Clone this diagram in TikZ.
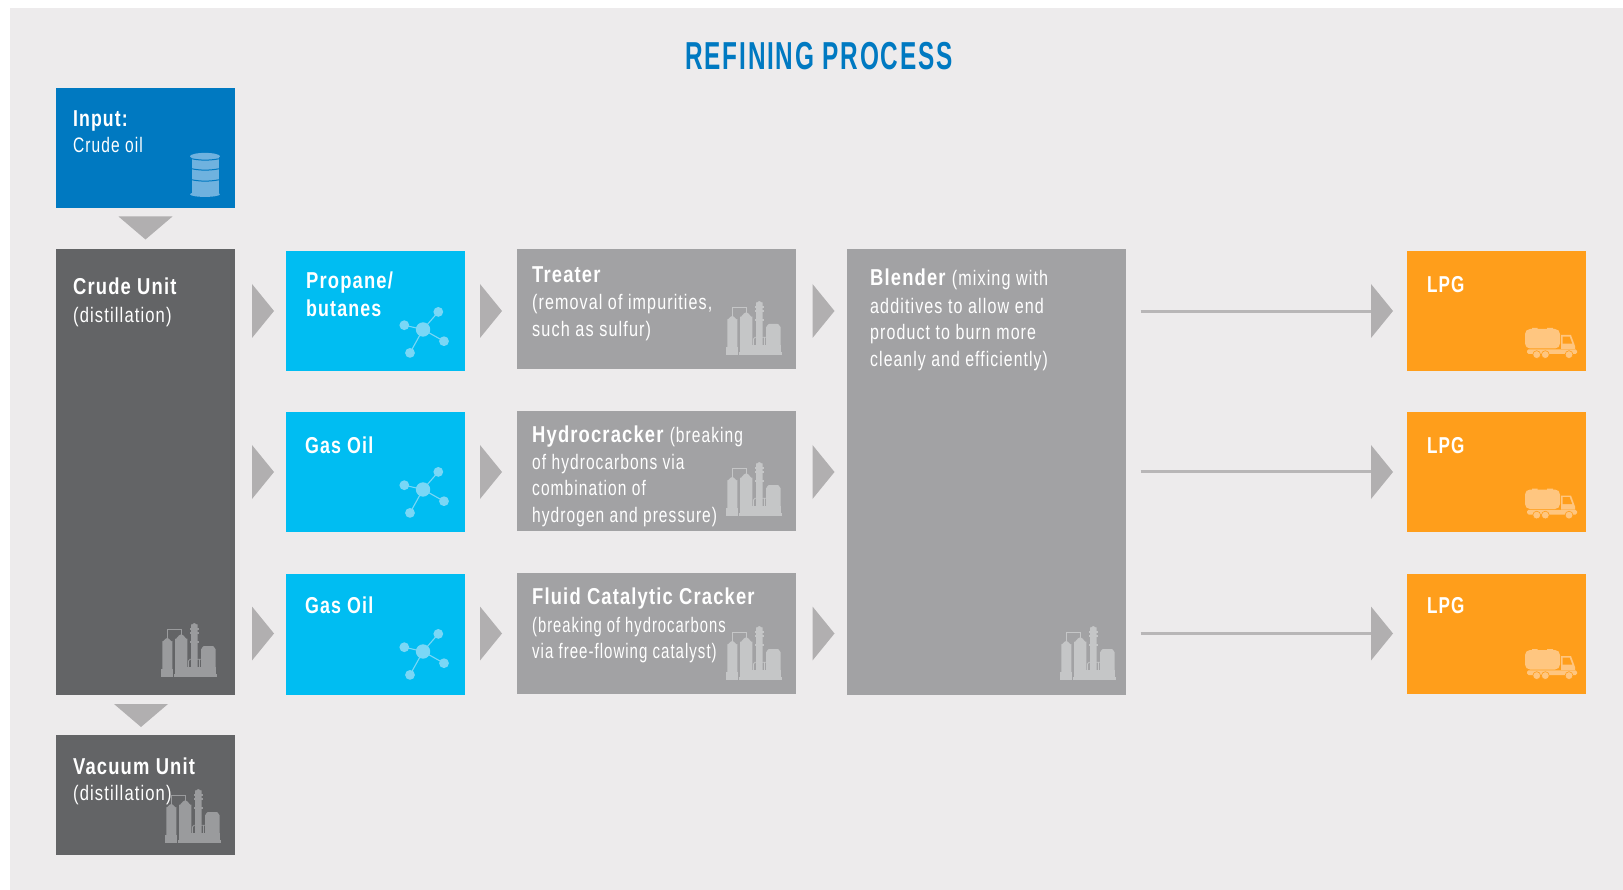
\documentclass[tikz,border=0pt]{standalone}
\usepackage{fontspec}
\usepackage{graphicx}
\setmainfont{Liberation Sans}
\newfontfamily\fr{Liberation Sans}[FakeStretch=.74,LetterSpace=5]
\newfontfamily\fb{Liberation Sans}[FakeStretch=.80,LetterSpace=5,UprightFont=* Bold]
\newfontfamily\ft{Liberation Sans}[FakeStretch=.625,LetterSpace=4.5,UprightFont=* Bold]
\newcommand{\sx}[2]{\scalebox{#1}[1]{#2}}
\definecolor{bgc}{HTML}{EDEBEC}
\definecolor{blueA}{HTML}{0079C1}
\definecolor{blueB}{HTML}{00BDF2}
\definecolor{darkg}{HTML}{636466}
\definecolor{midg}{HTML}{A2A2A4}
\definecolor{orng}{HTML}{FF9E1B}
\definecolor{arrowc}{HTML}{B1AFB0}
\definecolor{linec}{HTML}{B8B6B7}
\definecolor{icD}{HTML}{9A9B9D}
\definecolor{icM}{HTML}{C5C6C7}
\definecolor{icB}{HTML}{6FB2DF}
\definecolor{icL}{HTML}{7AD7F6}
\definecolor{icO}{HTML}{FFC680}
\newcommand{\tr}[1]{\fill[arrowc] (#1)++(0,-27) -- ++(22,27) -- ++(-22,27) -- cycle;}
\newcommand{\td}[1]{\fill[arrowc] (#1)++(-27,0) -- ++(54,0) -- ++(-27,23) -- cycle;}
\tikzset{
  bld/.style={anchor=base west,inner sep=0pt,text=white,font=\fb\fontsize{23}{27}\selectfont},
  reg/.style={anchor=base west,inner sep=0pt,text=white,font=\fr\fontsize{21}{27}\selectfont},
  pics/refinery/.style={code={
    \fill[#1] (1.3,53.7) -- (1.3,18) to[out=-80,in=180] (6.3,15) to[out=0,in=-100] (11.3,18) -- (11.3,53.7) -- cycle;
    \fill[#1] (0.3,46.3) rectangle (12.3,53.7);
    \fill[#1] (14,53.7) -- (14,15.5) to[out=-80,in=180] (20.2,11.3) to[out=0,in=-100] (26.3,15.5) -- (26.3,53.7) -- cycle;
    \fill[#1] (13,51) rectangle (55.7,53.7);
    \fill[#1] (26.3,43.7) rectangle (55,51);
    \fill[#1] (30,44) -- (30,1.5) to[out=-80,in=180] (33.3,0) to[out=0,in=-100] (36.7,1.5) -- (36.7,44) -- cycle;
    \fill[#1] (29,5.4) rectangle (38,7.2);
    \fill[#1] (29,9.4) rectangle (38,11.2);
    \fill[#1] (29,18.4) rectangle (38,20.2);
    \fill[#1] (40,51) -- (40,26) to[out=-90,in=180] (43,23) -- (51.7,23) to[out=0,in=-90] (54.7,26) -- (54.7,51) -- cycle;
    \draw[#1,line width=.8pt] (6.3,15) -- (6.3,6.3) -- (20.3,6.3) -- (20.3,12);
    \draw[#1,line width=.8pt] (27.5,44) -- (27.5,38) -- (29,36.3) -- (40,36.3);
    \draw[#1,line width=.8pt] (38.5,36.3) -- (38.5,44);
  }},
  pics/molecule/.style={code={
    \draw[icL,line width=1.1pt] (0,0) -- (15.3,-17.6) (0,0) -- (-18.7,-4.3) (0,0) -- (21,11.7) (0,0) -- (-13,23.4);
    \fill[icL] (0,0) circle (7.2) (15.3,-17.6) circle (4.9) (-18.7,-4.3) circle (4.9) (21,11.7) circle (4.9) (-13,23.4) circle (4.9);
  }},
  pics/truck/.style={code={
    \fill[icO,rounded corners=5pt] (0,1) rectangle (35,20.5);
    \fill[icO] (7,0) rectangle (12.5,2) (22,0) rectangle (28,2);
    \fill[icO] (36,7) -- (46,7) -- (50,18) -- (50,21) -- (36,21) -- cycle;
    \fill[orng] (37.6,8.6) -- (44.6,8.6) -- (47.2,15.6) -- (37.6,15.6) -- cycle;
    \fill[icO,rounded corners=1.5pt] (2,21.4) rectangle (52,26);
    \fill[icO] (11.7,26.6) circle (3.9) (20.3,26.6) circle (3.9) (44,26.6) circle (3.9);
    \draw[orng,line width=.6pt] (11.7,26.6) circle (3.9) (20.3,26.6) circle (3.9) (44,26.6) circle (3.9);
  }},
  pics/barrel/.style={code={
    \fill[icB] (191.7,156) rectangle (219.3,195);
    \fill[icB] (205,156.3) ellipse (15 and 3.4);
    \fill[icB] (205,194.3) ellipse (15 and 2.6);
    \draw[blueA,line width=1pt] (191,158.6) .. controls (200,160.6) and (210,160.6) .. (220,158.6);
    \draw[blueA,line width=1pt] (191,168.6) .. controls (200,170.6) and (210,170.6) .. (220,168.6);
    \draw[blueA,line width=1pt] (191,179.6) .. controls (200,181.6) and (210,181.6) .. (220,179.6);
  }},
}
\begin{document}
\begin{tikzpicture}[x=1pt,y=-1pt]
\useasboundingbox (0,0) rectangle (1623,890);
\fill[white] (0,0) rectangle (1623,890);
\fill[bgc] (10,8) rectangle (1623,890);
% boxes
\path[fill=blueA] (56,88) rectangle (235,208);
\path[fill=darkg] (56,249) rectangle (235,695);
\path[fill=darkg] (56,735) rectangle (235,855);
\path[fill=blueB] (286,251) rectangle (465,371);
\path[fill=blueB] (286,412) rectangle (465,532);
\path[fill=blueB] (286,574) rectangle (465,695);
\path[fill=midg] (517,249) rectangle (796,369);
\path[fill=midg] (517,411) rectangle (796,531);
\path[fill=midg] (517,573) rectangle (796,694);
\path[fill=midg] (847,249) rectangle (1126,695);
\path[fill=orng] (1407,251) rectangle (1586,371);
\path[fill=orng] (1407,412) rectangle (1586,532);
\path[fill=orng] (1407,574) rectangle (1586,694);
% icons
\pic at (0,0) {barrel};
\pic at (161,623) {refinery=icD};
\pic at (165,789) {refinery=icD};
\pic at (726,301) {refinery=icM};
\pic at (726,462) {refinery=icM};
\pic at (726,626) {refinery=icM};
\pic at (1060,626) {refinery=icM};
\pic at (423,329.5) {molecule};
\pic at (423,489.5) {molecule};
\pic at (423,651.5) {molecule};
\pic at (1525,328) {truck};
\pic at (1525,488.5) {truck};
\pic at (1525,649) {truck};
% triangles
\coordinate (d1) at (145.5,216.5); \td{d1}
\coordinate (d2) at (141,704); \td{d2}
\foreach \x in {252,480,812.5,1371} \foreach \y in {311,472,633.5} {\coordinate (a) at (\x,\y); \tr{a}}
% connectors
\foreach \n/\y in {1/311.5,2/471.5,3/633.5}{
  \coordinate (ls\n) at (1140.5,\y);
  \coordinate (le\n) at (1371,\y);
  \draw[linec,line width=2.2pt] (ls\n) -- (le\n);
}
% text
\node[anchor=base,inner sep=0pt,text=blueA,font=\ft\fontsize{39}{44}\selectfont] (title) at (819,69.5) {REFINING PROCESS};
\node[bld] (t1) at (73,126.5) {\sx{.96}{Input:}};
\node[reg] (t2) at (73,152.5) {Crude oil};
\node[bld] (t3) at (73,294.5) {Crude Unit};
\node[reg] (t4) at (73,322.5) {\sx{1.067}{(distillation)}};
\node[bld] (t5) at (73,774.5) {Vacuum Unit};
\node[reg] (t6) at (73,800.5) {\sx{1.067}{(distillation)}};
\node[bld] (t7) at (306,288.5) {Propane/};
\node[bld] (t8) at (306,316.5) {\sx{.97}{butanes}};
\node[bld] (t9) at (305,453.5) {\sx{.97}{Gas Oil}};
\node[bld] (t10) at (305,613.5) {\sx{.97}{Gas Oil}};
\node[bld] (t11) at (532,282.5) {Treater};
\node[reg] (t12) at (532,309.5) {\sx{1.036}{(removal of impurities,}};
\node[reg] (t13) at (532,336.5) {\sx{1.046}{such as sulfur)}};
\node[bld] (t14) at (532,442.5) {Hydrocracker {\fr\fontsize{21}{27}\selectfont (breaking}};
\node[reg] (t15) at (532,469.5) {of hydrocarbons via};
\node[reg] (t16) at (532,495.5) {combination of};
\node[reg] (t17) at (532,522.5) {hydrogen and pressure)};
\node[bld] (t18) at (532,604.5) {Fluid Catalytic Cracker};
\node[reg] (t19) at (532,632.5) {\sx{.95}{(breaking of hydrocarbons}};
\node[reg] (t20) at (532,658.5) {\sx{.967}{via free-flowing catalyst)}};
\node[bld] (t21) at (870,285.5) {Blender {\fr\fontsize{21}{27}\selectfont\sx{1.04}{(mixing with}}};
\node[reg] (t22) at (870,313.5) {\sx{1.037}{additives to allow end}};
\node[reg] (t23) at (870,339.5) {\sx{1.03}{product to burn more}};
\node[reg] (t24) at (870,366.5) {\sx{1.018}{cleanly and efficiently)}};
\node[bld] (t25) at (1427,292.5) {\sx{.93}{LPG}};
\node[bld] (t26) at (1427,453.5) {\sx{.93}{LPG}};
\node[bld] (t27) at (1427,613.5) {\sx{.93}{LPG}};
\end{tikzpicture}
\end{document}
